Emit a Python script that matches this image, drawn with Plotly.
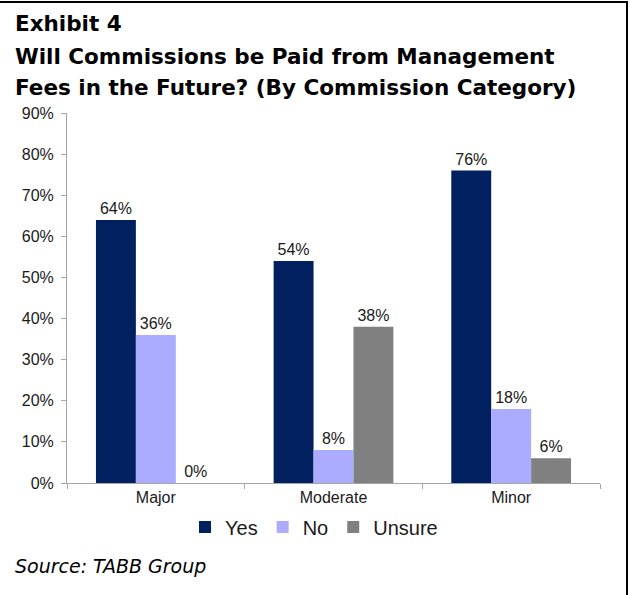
import plotly.graph_objects as go

categories = ["Major", "Moderate", "Minor"]
yes_vals = [64, 54, 76]
no_vals = [36, 8, 18]
unsure_vals = [0, 38, 6]
y_ticks = [0, 10, 20, 30, 40, 50, 60, 70, 80, 90]

series = [
    ("Yes", yes_vals, "#002060"),
    ("No", no_vals, "#ABABFF"),
    ("Unsure", unsure_vals, "#808080"),
]

W, H = 630, 595
L, R, T, B = 67, 30, 113, 112
plot_h = H - T - B
plot_w = W - L - R


def px_x(px):
    return (px - L) / plot_w


def px_y(py):
    return (H - B - py) / plot_h


fig = go.Figure()
for name, vals, color in series:
    fig.add_trace(go.Bar(
        name=name, x=categories, y=vals,
        marker=dict(color=color, line=dict(width=0)),
        text=[f"{v}%" for v in vals], textposition="outside", cliponaxis=False,
        textfont=dict(family="Liberation Sans, Arial", size=16, color="#1a1a1a"),
    ))

axis_grey = "#A6A6A6"
fig.update_layout(
    width=W, height=H,
    margin=dict(l=L, r=R, t=T, b=B),
    paper_bgcolor="white", plot_bgcolor="white",
    barmode="group", bargap=0.326, bargroupgap=0,
    font=dict(family="Liberation Sans, Arial", color="#1a1a1a"),
    showlegend=True,
    legend=dict(orientation="h", x=px_x(314), xanchor="center",
                y=px_y(527), yanchor="middle",
                font=dict(size=20, family="Liberation Sans, Arial"),
                itemwidth=30, tracegroupgap=0),
    xaxis=dict(showline=True, linecolor=axis_grey, linewidth=1,
               ticks="outside", tickson="boundaries", ticklen=5,
               tickcolor=axis_grey, showgrid=False,
               tickfont=dict(size=16)),
    yaxis=dict(range=[0, 90], tickvals=y_ticks,
               ticktext=[f"{v}%" for v in y_ticks],
               showline=True, linecolor=axis_grey, linewidth=1,
               ticks="outside", ticklen=5, tickcolor=axis_grey,
               ticklabelstandoff=4,
               showgrid=False, zeroline=False,
               tickfont=dict(size=16)),
)

title_lines = [
    ("Exhibit 4", 23),
    ("Will Commissions be Paid from Management", 56),
    ("Fees in the Future? (By Commission Category)", 87),
]
for text, yc in title_lines:
    fig.add_annotation(text=text, xref="paper", yref="paper",
                       x=px_x(13), y=px_y(yc), xanchor="left", yanchor="middle",
                       showarrow=False,
                       font=dict(family="DejaVu Sans", size=21.5, color="black",
                                 weight="bold"))

fig.add_annotation(text="<i>Source: TABB Group</i>", xref="paper", yref="paper",
                   x=px_x(13), y=px_y(566), xanchor="left", yanchor="middle",
                   showarrow=False,
                   font=dict(family="DejaVu Sans", size=19, color="black"))

# frame lines along the top and right edges
fig.add_shape(type="line", xref="paper", yref="paper",
              x0=px_x(0), x1=px_x(628), y0=px_y(2), y1=px_y(2),
              line=dict(color="black", width=2))
fig.add_shape(type="line", xref="paper", yref="paper",
              x0=px_x(627), x1=px_x(627), y0=px_y(1), y1=px_y(595),
              line=dict(color="black", width=2))

fig.write_html("out.html")
